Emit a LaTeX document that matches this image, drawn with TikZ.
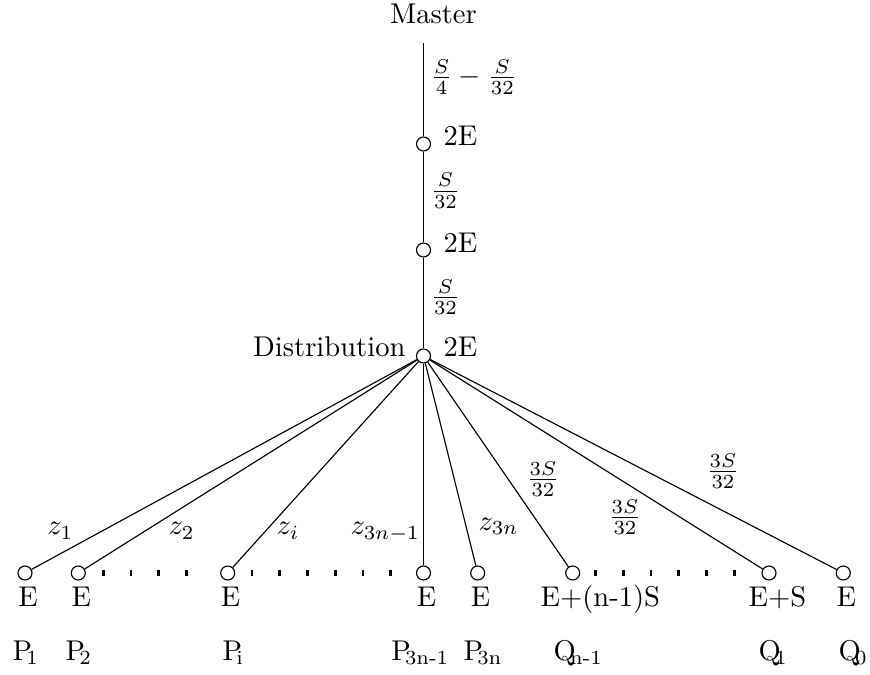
\documentclass[tikz,border=0pt]{standalone}
\newcommand{\lsub}[2]{#1\kern-2pt\textsubscript{#2}}
\begin{document}
\begin{tikzpicture}[x=0.35pt,y=-0.35pt,
  vtx/.style={circle,draw,fill=white,inner sep=0pt,minimum size=4.9pt},
  lbl/.style={inner sep=0pt},
  dotline/.style={line width=2.1pt,dash pattern=on 0.95pt off 8.75pt},
  edge/.style={line width=0.4pt}]
\useasboundingbox (0,0) rectangle (870,675);
% top part
\node[lbl,anchor=base] (master) at (433.5,24) {Master};
\coordinate (top) at (423.5,43);
\node[vtx] (c1) at (423.5,144) {};
\node[vtx] (c2) at (423.5,250) {};
\node[vtx] (d) at (423.5,356) {};
\draw[edge] (top) -- (c1);
\draw[edge] (c1) -- (c2);
\draw[edge] (c2) -- (d);
\node[lbl,anchor=west] (l0) at (430,77) {$\frac{S}{4}-\frac{S}{32}$};
\node[lbl,anchor=west] (l1) at (430,190.7) {$\frac{S}{32}$};
\node[lbl,anchor=west] (l2) at (430,297.3) {$\frac{S}{32}$};
\node[lbl,anchor=base west] (e1) at (443,146) {2E};
\node[lbl,anchor=base west] (e2) at (443,252.3) {2E};
\node[lbl,anchor=base west] (e3) at (443,356.7) {2E};
\node[lbl,anchor=base east] (dist) at (406,356.7) {Distribution};
% bottom vertices
\node[vtx] (p1) at (25,573) {};
\node[vtx] (p2) at (78.3,573) {};
\node[vtx] (pi) at (227.7,573) {};
\node[vtx] (pa) at (423.5,573) {};
\node[vtx] (pb) at (477.7,573) {};
\node[vtx] (qa) at (572.7,573) {};
\node[vtx] (qb) at (769,573) {};
\node[vtx] (qc) at (843.3,573) {};
\foreach \n in {p1,p2,pi,pa,pb,qa,qb,qc} \draw[edge] (d) -- (\n);
% dots
\draw[dotline] (101.95,573) -- (188,573);
\draw[dotline] (250.65,573) -- (392,573);
\draw[dotline] (594.35,573) -- (736,573);
% edge labels
\node[lbl,anchor=base west] (z1) at (46.7,535) {$z_1$};
\node[lbl,anchor=base west] (z2) at (168,535) {$z_2$};
\node[lbl,anchor=base west] (zi) at (276,535) {$z_i$};
\node[lbl,anchor=base west] (za) at (350,535) {$z_{3n-1}$};
\node[lbl,anchor=base west] (zb) at (478,530) {$z_{3n}$};
\node[lbl] (f1) at (543,479) {$\frac{3S}{32}$};
\node[lbl] (f2) at (625,517) {$\frac{3S}{32}$};
\node[lbl] (f3) at (723,471) {$\frac{3S}{32}$};
% E labels
\node[lbl,anchor=base] (ep1) at (28,606.7) {E};
\node[lbl,anchor=base] (ep2) at (81.3,606.7) {E};
\node[lbl,anchor=base] (epi) at (230.7,606.7) {E};
\node[lbl,anchor=base] (epa) at (426.5,606.7) {E};
\node[lbl,anchor=base] (epb) at (480.7,606.7) {E};
\node[lbl,anchor=base west] (eqa) at (540,606.7) {E+(n-1)S};
\node[lbl,anchor=base west] (eqb) at (748,606.7) {E+S};
\node[lbl,anchor=base] (eqc) at (846.3,606.7) {E};
% names
\node[lbl,anchor=base west] (n1) at (12,660) {\lsub{P}{1}};
\node[lbl,anchor=base west] (n2) at (65,660) {\lsub{P}{2}};
\node[lbl,anchor=base west] (ni) at (222,660) {\lsub{P}{i}};
\node[lbl,anchor=base west] (na) at (390.7,660) {\lsub{P}{3n-1}};
\node[lbl,anchor=base west] (nb) at (463,660) {\lsub{P}{3n}};
\node[lbl,anchor=base west] (nqa) at (553,660) {\lsub{Q}{n-1}};
\node[lbl,anchor=base west] (nqb) at (758,660) {\lsub{Q}{1}};
\node[lbl,anchor=base west] (nqc) at (838,660) {\lsub{Q}{0}};
\end{tikzpicture}
\end{document}
